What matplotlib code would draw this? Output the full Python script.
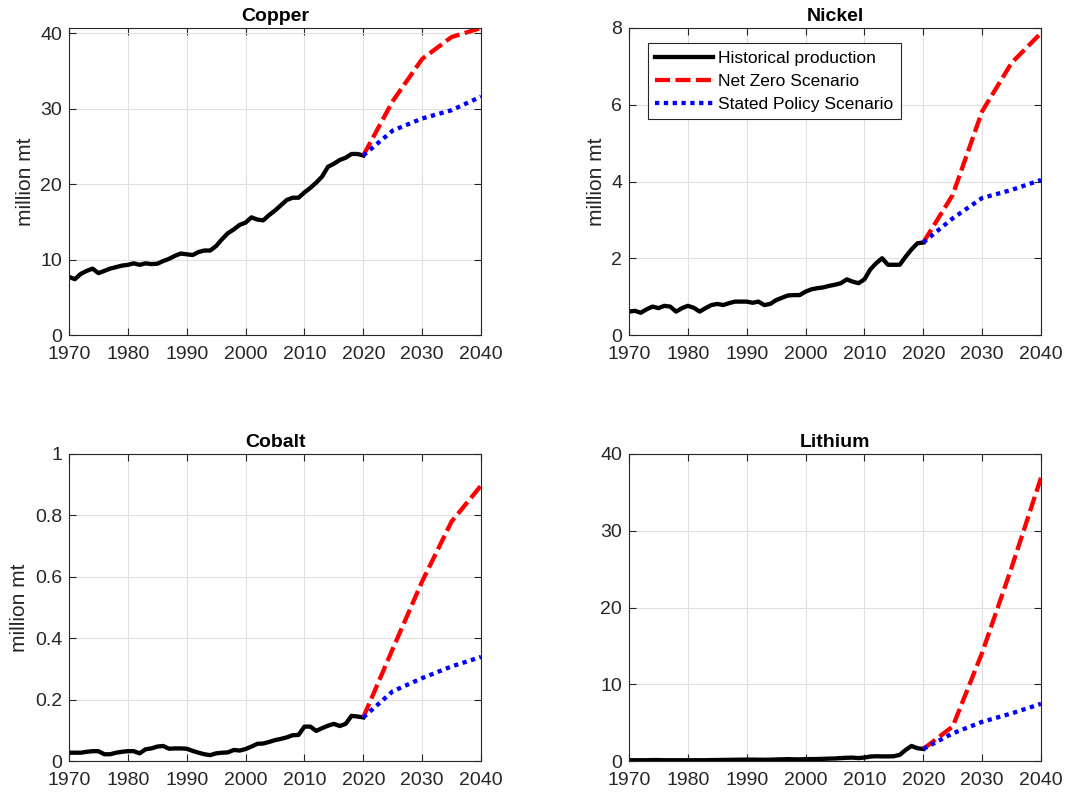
import matplotlib
matplotlib.use('Agg')
import matplotlib.pyplot as plt
from matplotlib.ticker import FuncFormatter

plt.rcParams['font.family'] = ['Liberation Sans', 'DejaVu Sans']

years = list(range(1970, 2021))
scenario_years = [2020, 2025, 2030, 2035, 2040]

copper_hist = [7.7, 7.4, 8.1, 8.5, 8.8, 8.2, 8.5, 8.8, 9.0, 9.2,
               9.3, 9.5, 9.3, 9.5, 9.4, 9.45, 9.8, 10.1, 10.5, 10.8,
               10.7, 10.6, 11.0, 11.2, 11.2, 11.8, 12.7, 13.5, 14.0, 14.6,
               14.9, 15.6, 15.3, 15.2, 15.9, 16.5, 17.2, 17.9, 18.2, 18.2,
               18.9, 19.5, 20.2, 21.0, 22.3, 22.7, 23.2, 23.5, 24.0, 24.0,
               23.8]
copper_nz = [23.8, 31.0, 36.6, 39.5, 40.7]
copper_steps = [23.8, 27.1, 28.7, 29.8, 31.6]

nickel_hist = [0.61, 0.63, 0.58, 0.67, 0.74, 0.70, 0.76, 0.74, 0.61, 0.70,
               0.76, 0.71, 0.61, 0.70, 0.78, 0.81, 0.78, 0.83, 0.87, 0.87,
               0.87, 0.84, 0.87, 0.78, 0.81, 0.91, 0.97, 1.03, 1.04, 1.04,
               1.13, 1.19, 1.22, 1.24, 1.28, 1.31, 1.35, 1.45, 1.39, 1.35,
               1.45, 1.71, 1.87, 2.00, 1.83, 1.83, 1.83, 2.04, 2.23, 2.39,
               2.41]
nickel_nz = [2.41, 3.65, 5.83, 7.09, 7.87]
nickel_steps = [2.41, 3.04, 3.57, 3.78, 4.04]

cobalt_hist = [0.027, 0.027, 0.027, 0.030, 0.032, 0.032, 0.022, 0.022, 0.027, 0.030,
               0.032, 0.032, 0.025, 0.038, 0.041, 0.047, 0.049, 0.040, 0.041, 0.041,
               0.040, 0.033, 0.027, 0.022, 0.019, 0.025, 0.027, 0.028, 0.036, 0.034,
               0.039, 0.047, 0.056, 0.057, 0.062, 0.068, 0.072, 0.077, 0.084, 0.085,
               0.112, 0.112, 0.098, 0.107, 0.115, 0.121, 0.114, 0.121, 0.147, 0.145,
               0.142]
cobalt_nz = [0.142, 0.365, 0.585, 0.78, 0.897]
cobalt_steps = [0.142, 0.227, 0.270, 0.308, 0.339]

lithium_hist = [0.10, 0.10, 0.10, 0.10, 0.12, 0.12, 0.10, 0.10, 0.10, 0.10,
                0.10, 0.10, 0.10, 0.10, 0.12, 0.13, 0.14, 0.15, 0.16, 0.17,
                0.18, 0.18, 0.17, 0.16, 0.17, 0.20, 0.22, 0.24, 0.22, 0.21,
                0.24, 0.25, 0.26, 0.28, 0.31, 0.33, 0.38, 0.42, 0.44, 0.38,
                0.45, 0.58, 0.62, 0.60, 0.60, 0.62, 0.80, 1.44, 1.96, 1.66,
                1.57]
lithium_nz = [1.57, 4.5, 14.1, 25.2, 36.9]
lithium_steps = [1.57, 3.6, 5.1, 6.2, 7.45]

metals = ['Copper', 'Nickel', 'Cobalt', 'Lithium']
hist = [copper_hist, nickel_hist, cobalt_hist, lithium_hist]
net_zero = [copper_nz, nickel_nz, cobalt_nz, lithium_nz]
stated = [copper_steps, nickel_steps, cobalt_steps, lithium_steps]
ylims = [40.7, 8, 1, 40]
ysteps = [10, 2, 0.2, 10]

W, H = 1086, 798
boxes = [(69, 28), (629, 28), (69, 454), (629, 454)]
ax_w, ax_h = 412, 307

fig = plt.figure(figsize=(W / 100, H / 100), dpi=100)
dark = (0.15, 0.15, 0.15)

for i, name in enumerate(metals):
    x0, y0 = boxes[i]
    ax = fig.add_axes([x0 / W, (H - y0 - ax_h) / H, ax_w / W, ax_h / H])
    ax.plot(years, hist[i], color='black', lw=3.1,
            label='Historical production', solid_joinstyle='round')
    ax.plot(scenario_years, net_zero[i], color='red', lw=3.1,
            ls=(0, (3.5, 1.25)), label='Net Zero Scenario')
    ax.plot(scenario_years, stated[i], color='blue', lw=3.1,
            ls=(0, (1.0, 1.05)), label='Stated Policy Scenario')

    ax.set_xlim(1970, 2040)
    ax.set_ylim(0, ylims[i])
    ax.set_xticks(range(1970, 2041, 10))
    n = int(round(ylims[i] / ysteps[i]))
    ticks = [k * ysteps[i] for k in range(n + 1)
             if k * ysteps[i] <= ylims[i] + 1e-9]
    ax.set_yticks(ticks)
    ax.yaxis.set_major_formatter(FuncFormatter(lambda v, p: '%g' % round(v, 2)))
    ax.grid(True, color=(0.88, 0.88, 0.88), lw=0.8)
    ax.set_axisbelow(True)
    ax.tick_params(direction='in', top=True, right=True, labelsize=14,
                   colors=dark, length=5, width=0.8)
    ax.tick_params(axis='x', pad=8)
    ax.tick_params(axis='y', pad=5)
    for s in ax.spines.values():
        s.set_color(dark)
        s.set_linewidth(0.8)
    ax.set_title(name, fontsize=14, fontweight='bold', pad=5)
    if name != 'Lithium':
        ax.set_ylabel('million mt', fontsize=15, color=dark, labelpad=4)
    if name == 'Nickel':
        leg = ax.legend(loc='upper left', bbox_to_anchor=(0.045, 0.952),
                        fontsize=12.5, handlelength=3.3, handletextpad=0.3,
                        borderpad=0.45, labelspacing=0.45, borderaxespad=0,
                        fancybox=False, framealpha=1)
        leg.get_frame().set_edgecolor(dark)
        leg.get_frame().set_linewidth(0.8)

fig.savefig('out.png', dpi=100)
